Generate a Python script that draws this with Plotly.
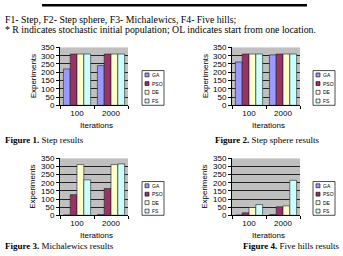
import plotly.graph_objects as go

W, H = 343, 256

categories = ["100", "2000"]
series_names = ["GA", "PSO", "DE", "FS"]
series_colors = ["#9999FF", "#993366", "#FFFFCC", "#CCFFFF"]

# Figure 1: Step
step_ga = [220, 240]
step_pso = [310, 310]
step_de = [310, 310]
step_fs = [310, 310]
# Figure 2: Step sphere
sphere_ga = [262, 305]
sphere_pso = [310, 310]
sphere_de = [310, 310]
sphere_fs = [310, 310]
# Figure 3: Michalewics
mich_ga = [2, 5]
mich_pso = [127, 165]
mich_de = [312, 312]
mich_fs = [218, 316]
# Figure 4: Five hills
hills_ga = [2, 5]
hills_pso = [15, 52]
hills_de = [48, 58]
hills_fs = [66, 215]

y_ticks = [0, 50, 100, 150, 200, 250, 300, 350]

panels = [
    [step_ga, step_pso, step_de, step_fs],
    [sphere_ga, sphere_pso, sphere_de, sphere_fs],
    [mich_ga, mich_pso, mich_de, mich_fs],
    [hills_ga, hills_pso, hills_de, hills_fs],
]
captions = [
    "<b>Figure 1.</b> Step results",
    "<b>Figure 2.</b> Step sphere results",
    "<b>Figure 3.</b> Michalewics results",
    "<b>Figure 4.</b> Five hills results",
]

# pixel boxes of plot areas: (x0, x1, ytop, ybottom)
boxes = [(60, 128, 45, 105), (232, 300, 45, 105), (60, 128, 160, 219), (232, 300, 160, 219)]
legend_boxes = [(142, 164, 69, 105), (313, 335, 69, 105), (142, 164, 184, 219), (313, 335, 184, 219)]
caption_pos = [(3, 141, "left"), (267, 141, "center"), (3, 251, "left"), (342, 251, "right")]


def px(x):
    return x / W


def py(y):
    return 1 - y / H


ARIAL = "Liberation Sans, Arial, sans-serif"
TIMES = "Liberation Serif, Times New Roman, serif"

fig = go.Figure()
layout = dict(
    width=W, height=H, margin=dict(l=0, r=0, t=0, b=0),
    paper_bgcolor="white", plot_bgcolor="#C0C0C0",
    showlegend=False, barmode="group", bargap=0.2, bargroupgap=0.0,
    font=dict(family=ARIAL, size=8, color="black"),
)
shapes = []
annotations = []

for i, (vals, box) in enumerate(zip(panels, boxes)):
    n = "" if i == 0 else str(i + 1)
    for name, color, v in zip(series_names, series_colors, vals):
        fig.add_trace(go.Bar(
            x=categories, y=v, name=name, xaxis="x" + n, yaxis="y" + n,
            marker=dict(color=color, line=dict(color="#202020", width=0.6)),
        ))
    x0, x1, yt, yb = box
    layout["xaxis" + n] = dict(
        domain=[px(x0), px(x1)], anchor="y" + n, type="category",
        showline=True, linecolor="black", linewidth=1, mirror=False,
        ticks="outside", tickson="boundaries", ticklen=3, tickcolor="black",
        tickfont=dict(size=8, family=ARIAL), showgrid=False, fixedrange=True,
    )
    layout["yaxis" + n] = dict(
        domain=[py(yb), py(yt)], anchor="x" + n, range=[0, 350],
        tickvals=y_ticks, ticks="outside", ticklen=3, tickcolor="black",
        showline=True, linecolor="black", linewidth=1,
        showgrid=True, gridcolor="#222222", gridwidth=1, zeroline=False,
        tickfont=dict(size=8, family=ARIAL), fixedrange=True,
    )
    # axis titles
    annotations.append(dict(text="Experiments", x=px(x0 - 27), y=py((yt + yb) / 2),
                            xref="paper", yref="paper", textangle=-90, showarrow=False,
                            font=dict(size=8, family=ARIAL), xanchor="center", yanchor="middle"))
    annotations.append(dict(text="Iterations", x=px((x0 + x1) / 2 + 2), y=py(yb + 21),
                            xref="paper", yref="paper", showarrow=False,
                            font=dict(size=8, family=ARIAL), xanchor="center", yanchor="middle"))
    # legend
    lx0, lx1, ly0, ly1 = legend_boxes[i]
    shapes.append(dict(type="rect", xref="paper", yref="paper", x0=px(lx0), x1=px(lx1),
                       y0=py(ly1), y1=py(ly0), line=dict(color="black", width=0.7),
                       fillcolor="white"))
    step_h = (ly1 - ly0) / len(series_names)
    for j, (name, color) in enumerate(zip(series_names, series_colors)):
        cy = ly0 + step_h * (j + 0.5)
        shapes.append(dict(type="rect", xref="paper", yref="paper", x0=px(lx0 + 3),
                           x1=px(lx0 + 7), y0=py(cy + 2), y1=py(cy - 2),
                           line=dict(color="black", width=0.6), fillcolor=color))
        annotations.append(dict(text=name, x=px(lx0 + 7.5), y=py(cy), xref="paper", yref="paper",
                                showarrow=False, xanchor="left", yanchor="middle",
                                font=dict(size=5, family=ARIAL)))
    # caption
    cx, cy, anc = caption_pos[i]
    annotations.append(dict(text=captions[i], x=px(cx), y=py(cy), xref="paper", yref="paper",
                            showarrow=False, xanchor=anc, yanchor="middle",
                            font=dict(size=9, family=TIMES)))

# header
shapes.append(dict(type="rect", xref="paper", yref="paper", x0=px(42), x1=px(307),
                   y0=py(2.5), y1=py(0), line=dict(width=0), fillcolor="black"))
annotations.append(dict(text="F1- Step, F2- Step sphere, F3- Michalewics, F4- Five hills;",
                        x=px(3), y=py(16), xref="paper", yref="paper", showarrow=False,
                        xanchor="left", yanchor="middle", font=dict(size=9.8, family=TIMES)))
annotations.append(dict(text="* R indicates stochastic initial population; OL indicates start from one location.",
                        x=px(3), y=py(26), xref="paper", yref="paper", showarrow=False,
                        xanchor="left", yanchor="middle", font=dict(size=9.8, family=TIMES)))

layout["shapes"] = shapes
layout["annotations"] = annotations
fig.update_layout(**layout)
fig.write_html("out.html", config={"displayModeBar": False})
